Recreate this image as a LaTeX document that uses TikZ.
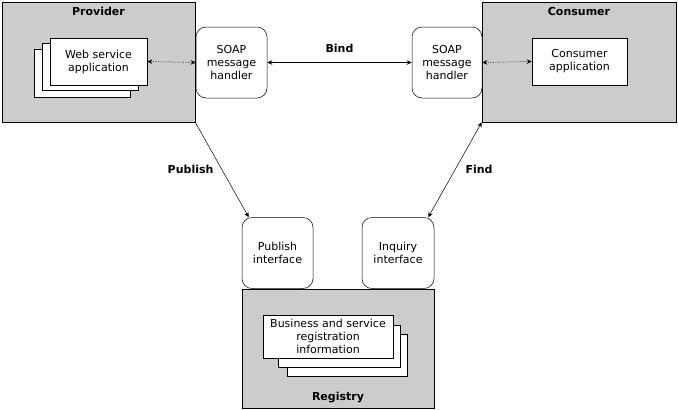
\documentclass[tikz,border=0pt]{standalone}
\usepackage{fontspec}
\setmainfont{DejaVu Sans}
\usetikzlibrary{arrows.meta}

\begin{document}
\begin{tikzpicture}[x=1pt, y=-1pt, line width=0.5pt,
   >={Stealth[length=5pt,width=4.5pt]},
   every node/.style={font=\fontsize{11}{13}\selectfont, align=center},
   area/.style={draw, fill=black!20, inner sep=0pt},
   page/.style={draw, fill=white, inner sep=0pt},
   handler/.style={draw, fill=white, rounded corners=10pt, inner sep=0pt,
                   minimum width=71pt, minimum height=71pt},
   title/.style={font=\fontsize{11}{13}\selectfont\bfseries},
   link/.style={dash pattern=on 1pt off 1.5pt}]
\useasboundingbox (0,0) rectangle (678,410);

% provider side
\node[area, minimum width=193pt, minimum height=120pt] (prov) at (98.5,62) {};
\node[title, below=2pt] (provT) at (prov.north) {Provider};
\node[page, minimum width=96pt, minimum height=48pt] (web3) at (82,73) {};
\node[page, minimum width=96pt, minimum height=47pt] (web2) at (90,66.5) {};
\node[page, minimum width=97pt, minimum height=47pt] (web) at (98.5,61.5) {Web service\\application};
\node[handler] (soapP) at (231.5,62.5) {SOAP\\message\\handler};

% consumer side
\node[area, minimum width=194pt, minimum height=120pt] (cons) at (579,62) {};
\node[title, below=2pt] (consT) at (cons.north) {Consumer};
\node[page, minimum width=95pt, minimum height=47pt] (capp) at (579.5,61.5) {Consumer\\application};
\node[handler, minimum width=70pt] (soapC) at (447,62.5) {SOAP\\message\\handler};

% registry
\node[area, minimum width=192pt, minimum height=119pt] (reg) at (338,348.5) {};
\node[title, above=2pt] (regT) at (reg.south) {Registry};
\node[handler] (pubI) at (277.5,253) {Publish\\interface};
\node[handler, minimum width=72pt] (inqI) at (398,253) {Inquiry\\interface};
\node[page, minimum width=120pt, minimum height=42pt] (biz3) at (347,355) {};
\node[page, minimum width=122pt, minimum height=42pt] (biz2) at (339,346) {};
\node[page, minimum width=130pt, minimum height=43pt] (biz) at (328,336.5) {Business and service\\registration\\information};

\draw[link, <->] (web.east) -- (soapP.west);
\draw[link, <->] (soapC.east) -- (capp.west);
\draw[<->] (soapP.east) -- node[title, above=6pt] {Bind} (soapC.west);
\draw[->] (prov.south east) -- node[title, left=5pt] {Publish} ([xshift=7pt]pubI.north west);
\draw[<->] ([xshift=-6pt]inqI.north east) -- node[title, right=7pt] {Find} (cons.south west);
\end{tikzpicture}
\end{document}
